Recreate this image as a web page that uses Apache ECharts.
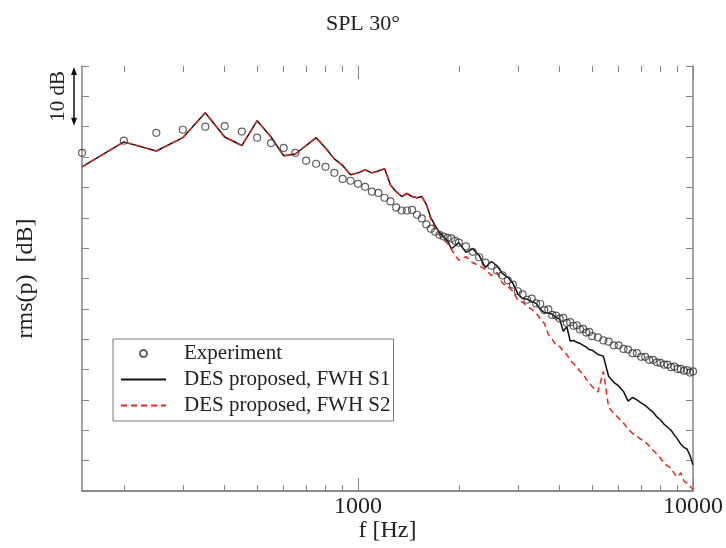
<!DOCTYPE html>
<html>
<head>
<meta charset="utf-8">
<script src="https://cdn.jsdelivr.net/npm/echarts@6/dist/echarts.min.js"></script>
<style>
html, body { margin: 0; padding: 0; background: #fff; }
#chart { width: 726px; height: 548px; }
</style>
</head>
<body>
<div id="chart"></div>
<script>
// frequencies [Hz]
const freqs = [
  150, 200, 250, 300, 350, 400, 450, 500, 550, 600, 650, 700, 750, 800, 850, 900, 950,
  1000, 1050, 1100, 1150, 1200, 1250, 1300, 1350, 1400, 1450, 1500, 1550, 1600, 1650,
  1700, 1750, 1800, 1850, 1900, 1950, 2000,
  2100, 2200, 2300, 2400, 2500, 2600, 2700, 2800, 2900, 3000, 3100, 3200, 3300, 3400,
  3500, 3600, 3700, 3800, 3900, 4000, 4100, 4200, 4300, 4400, 4500, 4600, 4700, 4800,
  4900, 5000,
  5200, 5400, 5600, 5800, 6000, 6200, 6400, 6600, 6800, 7000, 7200, 7400, 7600, 7800,
  8000, 8200, 8400, 8600, 8800, 9000, 9200, 9400, 9600, 9800, 10000
];

// rms(p) [dB], relative scale
const experiment = [
  55.7, 57.7, 59.0, 59.5, 60.0, 60.1, 59.2, 58.2, 57.3, 56.5, 55.7, 54.4, 53.9, 53.4, 52.4, 51.4, 51.1,
  50.6, 50.1, 49.3, 49.1, 48.3, 47.7, 46.7, 46.2, 46.2, 46.3, 45.5, 44.9, 43.9, 43.2,
  42.7, 42.2, 41.9, 41.7, 41.6, 41.2, 40.9,
  40.3, 39.4, 38.5, 37.6, 37.1, 36.3, 35.5, 34.7, 34.0, 32.9, 32.4, 31.5, 31.7, 30.9,
  30.8, 29.8, 29.9, 29.0, 28.9, 28.4, 28.5, 27.7, 27.8, 27.2, 27.3, 26.6, 26.7, 26.1,
  26.2, 25.5,
  25.3, 24.8, 24.6, 24.0, 24.0, 23.4, 23.3, 22.7, 22.7, 22.1, 22.1, 21.6, 21.6, 21.2,
  21.1, 20.8, 20.8, 20.4, 20.5, 20.1, 20.1, 19.8, 19.9, 19.5, 19.7
];

const fwhS1 = [
  53.4, 57.5, 56.0, 58.2, 62.3, 58.3, 56.9, 61.0, 58.3, 55.2, 55.5, 56.9, 58.2, 56.5, 54.7, 53.6, 52.1,
  52.4, 52.9, 52.4, 52.7, 53.1, 50.4, 49.3, 48.5, 49.0, 48.5, 48.3, 48.5, 47.2, 45.0,
  43.7, 42.6, 41.9, 41.2, 39.9, 40.4, 40.9,
  39.3, 39.9, 38.8, 36.8, 37.8, 37.1, 35.8, 35.2, 34.2, 32.5, 31.7, 31.6, 31.2, 30.9,
  29.9, 29.4, 29.3, 29.1, 28.6, 28.3, 26.3, 27.1, 24.7, 24.8, 24.5, 24.3, 24.0, 23.7,
  23.3, 23.2,
  22.5, 22.2, 18.9, 17.9, 17.3, 16.4, 14.8, 15.4, 15.0, 14.5, 14.1, 13.5, 13.0, 12.2,
  11.7, 11.0, 10.5, 10.0, 9.2, 8.5, 7.7, 7.2, 6.9, 5.8, 4.3
];

const fwhS2 = [
  53.4, 57.5, 56.0, 58.2, 62.3, 58.3, 56.9, 61.0, 58.3, 55.2, 55.5, 56.9, 58.2, 56.5, 54.7, 53.6, 52.1,
  52.4, 52.9, 52.4, 52.7, 53.1, 50.4, 49.3, 48.5, 49.0, 48.5, 48.3, 48.5, 47.2, 44.7,
  43.4, 42.2, 41.4, 40.8, 39.8, 38.8, 38.0,
  38.6, 37.6, 37.1, 36.5, 35.5, 36.0, 34.2, 33.7, 32.9, 31.4, 31.1, 30.4, 29.9, 29.3,
  28.4, 27.6, 25.8, 25.0, 24.0, 23.8, 23.0, 22.5, 21.5, 21.0, 20.4, 19.7, 19.3, 18.4,
  17.9, 17.2,
  16.3, 19.7, 13.8, 12.8, 12.0, 11.2, 10.2, 9.5, 9.0, 8.5, 8.1, 7.4, 6.7, 6.1,
  5.4, 4.6, 4.1, 3.8, 2.8, 2.3, 3.0, 1.6, 1.3, 0.8, 0.2
];

const majorTickFreqs = [1000, 10000];
const minorTickFreqs = [200, 300, 400, 500, 600, 700, 800, 900, 2000, 3000, 4000, 5000, 6000, 7000, 8000, 9000];
const xLabelFreqs = [1000, 10000];

const F_MIN = 150, F_MAX = 10000;
const serif = 'Liberation Serif';
const frameColor = '#858585';

const pair = ys => freqs.map((f, i) => [f, ys[i]]);

// value axis in log10(f) space, used only to place ticks/labels
function tickAxis(position, values, len, labels) {
  return {
    type: 'value',
    position: position,
    min: Math.log10(F_MIN),
    max: Math.log10(F_MAX),
    axisLine: { show: false },
    axisTick: {
      show: true, inside: true, length: len,
      customValues: values.map(v => Math.log10(v)),
      lineStyle: { color: frameColor, width: 1 }
    },
    axisLabel: labels ? {
      show: true, margin: 4,
      customValues: labels.map(v => Math.log10(v)),
      formatter: v => String(Math.round(Math.pow(10, v))),
      fontFamily: serif, fontSize: 24, color: '#222'
    } : { show: false },
    splitLine: { show: false }
  };
}

function yAxis(position, name) {
  return {
    type: 'value',
    position: position,
    min: 0, max: 70, interval: 5,
    name: name,
    nameLocation: 'middle',
    nameGap: 44,
    nameRotate: 90,
    nameTextStyle: { fontFamily: serif, fontSize: 24, color: '#222' },
    axisLine: { show: true, lineStyle: { color: frameColor, width: 1.5 } },
    axisTick: { show: true, inside: true, length: 7, lineStyle: { color: frameColor } },
    axisLabel: { show: false },
    splitLine: { show: false }
  };
}

const chart = echarts.init(document.getElementById('chart'));

chart.setOption({
  animation: false,
  backgroundColor: '#fff',
  title: {
    text: 'SPL 30°',
    left: 'center', top: 8,
    textStyle: { fontFamily: serif, fontSize: 22, fontWeight: 'normal', color: '#222' }
  },
  grid: { left: 82, right: 31, top: 66, bottom: 56 },
  legend: {
    orient: 'vertical',
    left: 113, top: 339,
    itemWidth: 45, itemHeight: 7, itemGap: 5,
    padding: [4, 3, 5, 7],
    borderColor: '#7a7a7a', borderWidth: 1,
    backgroundColor: '#fff',
    textStyle: { fontFamily: serif, fontSize: 21, color: '#222', padding: [0, 0, 0, 13] },
    data: [
      { name: 'Experiment' },
      { name: 'DES proposed, FWH S1', itemStyle: { opacity: 0 } },
      { name: 'DES proposed, FWH S2', itemStyle: { opacity: 0 } }
    ]
  },
  xAxis: [
    {
      type: 'log', logBase: 10, min: F_MIN, max: F_MAX,
      position: 'bottom',
      name: 'f [Hz]', nameLocation: 'middle', nameGap: 28,
      nameTextStyle: { fontFamily: serif, fontSize: 24, color: '#222' },
      axisLine: { show: true, lineStyle: { color: frameColor, width: 1.5 } },
      axisTick: { show: false }, axisLabel: { show: false }, splitLine: { show: false }
    },
    {
      type: 'log', logBase: 10, min: F_MIN, max: F_MAX,
      position: 'top',
      axisLine: { show: true, lineStyle: { color: frameColor, width: 1.5 } },
      axisTick: { show: false }, axisLabel: { show: false }, splitLine: { show: false }
    },
    tickAxis('bottom', majorTickFreqs, 13, xLabelFreqs),
    tickAxis('bottom', minorTickFreqs, 6),
    tickAxis('top', majorTickFreqs, 13),
    tickAxis('top', minorTickFreqs, 6)
  ],
  yAxis: [
    yAxis('left', 'rms(p)  [dB]'),
    yAxis('right', '')
  ],
  series: [
    {
      name: 'Experiment',
      type: 'scatter',
      xAxisIndex: 0, yAxisIndex: 0,
      data: pair(experiment),
      symbol: 'circle', symbolSize: 7,
      itemStyle: { color: 'rgba(255,255,255,0)', borderColor: '#3a3a3a', borderWidth: 1.2 },
      z: 4
    },
    {
      name: 'DES proposed, FWH S1',
      type: 'line',
      xAxisIndex: 0, yAxisIndex: 0,
      data: pair(fwhS1),
      symbol: 'none',
      lineStyle: { color: '#111', width: 1.5 },
      itemStyle: { color: '#111' },
      z: 2
    },
    {
      name: 'DES proposed, FWH S2',
      type: 'line',
      xAxisIndex: 0, yAxisIndex: 0,
      data: pair(fwhS2),
      symbol: 'none',
      lineStyle: { color: '#e8261c', width: 1.5, type: [6, 4] },
      itemStyle: { color: '#e8261c' },
      z: 3
    }
  ]
});

// "10 dB" scale arrow beside the axis
const yTop = chart.convertToPixel({ yAxisIndex: 0 }, 70);
const yBot = chart.convertToPixel({ yAxisIndex: 0 }, 60);
const ax = 74;
chart.setOption({
  graphic: [
    { type: 'line', shape: { x1: ax, y1: yTop + 4, x2: ax, y2: yBot - 4 }, style: { stroke: '#111', lineWidth: 1.5 } },
    { type: 'polygon', shape: { points: [[ax, yTop + 1], [ax - 3, yTop + 9], [ax + 3, yTop + 9]] }, style: { fill: '#111' } },
    { type: 'polygon', shape: { points: [[ax, yBot - 1], [ax - 3, yBot - 9], [ax + 3, yBot - 9]] }, style: { fill: '#111' } },
    {
      type: 'text', x: 58, y: (yTop + yBot) / 2, rotation: Math.PI / 2,
      style: {
        text: '10 dB', font: '21px "Liberation Serif"', fill: '#222',
        align: 'center', verticalAlign: 'middle',
        textAlign: 'center', textVerticalAlign: 'middle'
      }
    }
  ]
});

window.addEventListener('resize', function () {
  chart.resize();
});
</script>
</body>
</html>
